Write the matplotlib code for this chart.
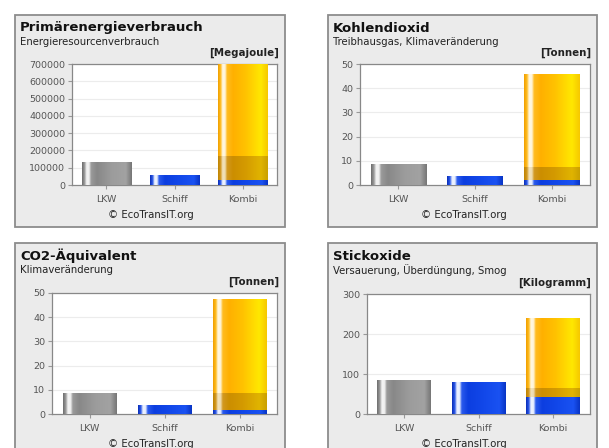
import numpy as np
import matplotlib
matplotlib.use("Agg")
import matplotlib.pyplot as plt
from matplotlib.colors import to_rgb
from matplotlib.patches import Rectangle

# ── data ─────────────────────────────────────────────────────
categories = ["LKW", "Schiff", "Kombi"]

titles = ["Primärenergieverbrauch", "Kohlendioxid", "CO2-Äquivalent", "Stickoxide"]
subtitles = ["Energieresourcenverbrauch", "Treibhausgas, Klimaveränderung",
             "Klimaveränderung", "Versauerung, Überdüngung, Smog"]
units = ["[Megajoule]", "[Tonnen]", "[Tonnen]", "[Kilogramm]"]
y_max = [700000, 50, 50, 300]
y_step = [100000, 10, 10, 100]

lkw = [129000, 8.3, 8.5, 83.5]
schiff = [54000, 3.7, 3.7, 78]
# Kombi: Schiffsanteil (blau), Vor-/Nachlauf (dunkel), Bahn (orange)
kombi_schiff = [29000, 2.1, 1.6, 43]
kombi_lkw = [139000, 5.5, 6.9, 21]
kombi_bahn = [532000, 38.4, 38.7, 173]

# ── layout (pixels, origin top-left) ─────────────────────────
W, H = 609, 448
panels = [
    # box x0, y0, x1, y1 / axes left, right, top, bottom
    dict(box=(15, 15, 285, 227), ax=(72, 277, 64, 185)),
    dict(box=(328, 15, 597, 227), ax=(360, 590, 64, 185)),
    dict(box=(15, 243, 285, 470), ax=(52, 277, 293, 414)),
    dict(box=(328, 243, 597, 470), ax=(367, 590, 294, 414)),
]

# Zylinder-Look: Farbverlauf quer über den Balken mit hellem Glanzstreifen
STYLES = {
    "gray": [(0, "#6e6e6e"), (0.05, "#9a9a9a"), (0.09, "#f4f4f4"), (0.14, "#f0f0f0"),
             (0.18, "#9a9a9a"), (0.3, "#888888"), (0.6, "#9c9c9c"), (0.88, "#a2a2a2"),
             (1, "#767676")],
    "blue": [(0, "#0a2eb8"), (0.05, "#2a58e8"), (0.09, "#eef3ff"), (0.14, "#e8efff"),
             (0.18, "#2a5aec"), (0.3, "#0c3ee0"), (0.6, "#1248ea"), (0.88, "#1a52f2"),
             (1, "#0834c4")],
    "orange": [(0, "#f0a000"), (0.05, "#ffbc20"), (0.09, "#fff8e4"), (0.14, "#fff4d8"),
               (0.18, "#ffbc20"), (0.3, "#ffb000"), (0.55, "#ffc200"), (0.86, "#ffe800"),
               (1, "#f6c800")],
    "dark": [(0, "#c08400"), (0.05, "#d29820"), (0.09, "#f2e2bc"), (0.14, "#eedcb0"),
             (0.18, "#d29820"), (0.3, "#cc8e00"), (0.55, "#d49a00"), (0.86, "#e0b400"),
             (1, "#caa000")],
}


def gradient(name, n=160):
    stops = STYLES[name]
    pos = [p for p, _ in stops]
    cols = np.array([to_rgb(c) for _, c in stops])
    xs = np.linspace(0, 1, n)
    rgb = np.stack([np.interp(xs, pos, cols[:, i]) for i in range(3)], axis=-1)
    return rgb[np.newaxis, :, :]


def bar(ax, x, bottom, height, style, width=0.72):
    ax.imshow(gradient(style), extent=(x - width / 2, x + width / 2, bottom, bottom + height),
              aspect="auto", interpolation="bilinear", zorder=3)


def fx(x):
    return x / W


def fy(y):
    return 1 - y / H


fig = plt.figure(figsize=(W / 100, H / 100), dpi=100)
fig.patch.set_facecolor("white")

for i, p in enumerate(panels):
    bx0, by0, bx1, by1 = p["box"]
    fig.patches.append(Rectangle((fx(bx0), fy(by1)), fx(bx1) - fx(bx0), fy(by0) - fy(by1),
                                 transform=fig.transFigure, facecolor="#ebebeb",
                                 edgecolor="#8c8c8c", linewidth=1.3, zorder=-1))

    fig.text(fx(bx0 + 5), fy(by0 + 13), titles[i], fontsize=9.5, fontweight="bold",
             color="#111111", va="center", ha="left")
    fig.text(fx(bx0 + 5), fy(by0 + 27), subtitles[i], fontsize=7.3,
             color="#222222", va="center", ha="left")

    al, ar, at, ab = p["ax"]
    fig.text(fx(bx1 - 6), fy(at - 11), units[i], fontsize=7.4, fontweight="bold",
             color="#222222", va="center", ha="right")

    ax = fig.add_axes([fx(al), fy(ab), fx(ar) - fx(al), fy(at) - fy(ab)], zorder=2)
    ax.set_facecolor("white")
    ax.set_xlim(-0.5, 2.5)
    ax.set_ylim(0, y_max[i])
    ticks = np.arange(0, y_max[i] + y_step[i] / 2, y_step[i])
    ax.set_yticks(ticks)
    ax.set_yticklabels([f"{int(t)}" for t in ticks])
    ax.set_xticks(range(len(categories)))
    ax.set_xticklabels(categories)
    ax.tick_params(axis="both", labelsize=6.8, labelcolor="#555555", color="#999999",
                   length=3, width=0.8, pad=2)
    ax.tick_params(axis="x", pad=4)
    for s in ax.spines.values():
        s.set_color("#888888")
        s.set_linewidth(0.9)
    for t in ticks[1:]:
        ax.axhline(t, color="#ececec", lw=0.8, zorder=1)

    bar(ax, 0, 0, lkw[i], "gray")
    bar(ax, 1, 0, schiff[i], "blue")
    bar(ax, 2, 0, kombi_schiff[i], "blue")
    bar(ax, 2, kombi_schiff[i], kombi_lkw[i], "dark")
    bar(ax, 2, kombi_schiff[i] + kombi_lkw[i], kombi_bahn[i], "orange")
    ax.set_xlim(-0.5, 2.5)
    ax.set_ylim(0, y_max[i])

    fig.text(fx((bx0 + bx1) / 2 + 1), fy(ab + 30), "© EcoTransIT.org", fontsize=7.3,
             color="#222222", va="center", ha="center")

fig.savefig("out.png", dpi=100)
